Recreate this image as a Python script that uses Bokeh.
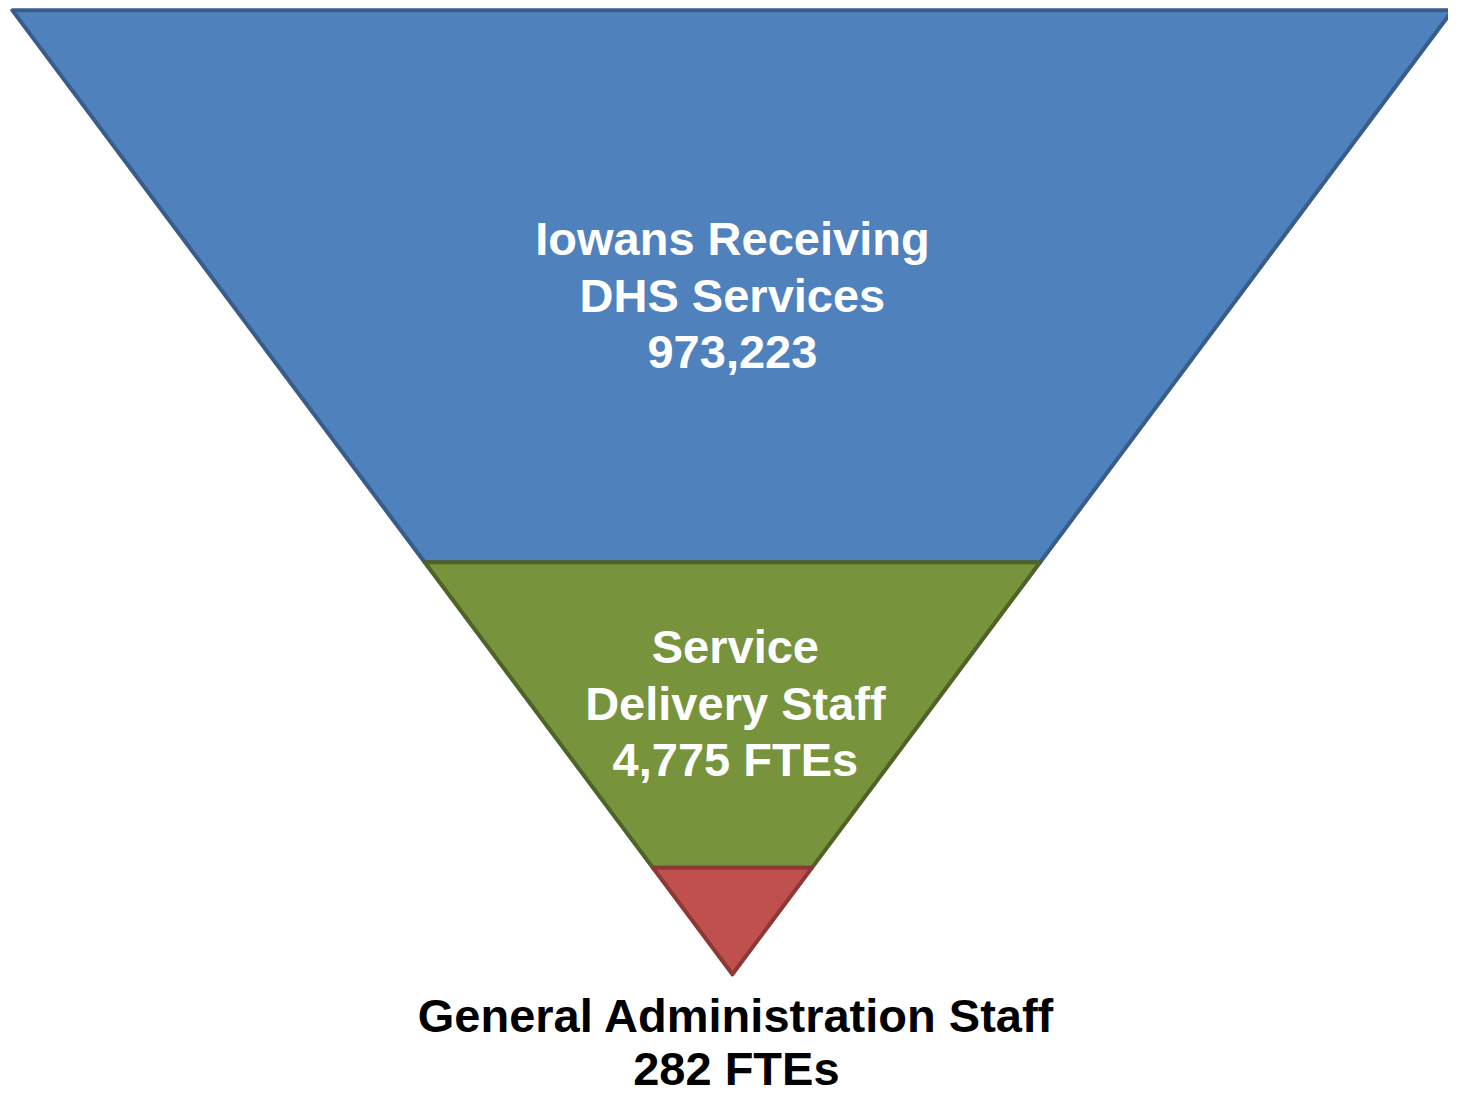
from bokeh.plotting import figure
from bokeh.models import Range1d, ColumnDataSource
from bokeh.core.properties import value
from bokeh.embed import file_html
from bokeh.resources import INLINE

# ---- data ----
stage_titles = [["Iowans Receiving", "DHS Services"],
                ["Service", "Delivery Staff"],
                ["General Administration Staff"]]
stage_values = [973223, 4775, 282]
value_units = ["", " FTEs", " FTEs"]
band_shares = [0.5726, 0.3170, 0.1104]          # share of funnel depth per band
fill_colors = ["#4F81BD", "#77933C", "#C0504D"]
line_colors = ["#385D8A", "#4F6228", "#8C3836"]
text_colors = ["white", "white", "black"]

# ---- layout (reference-pixel coordinate system 1464 x 1112) ----
W, H = 1448, 1096
TOP, APEX = 10, 988
LEFT, RIGHT = 12, 1468
CX = (LEFT + RIGHT) / 2.0
LINE_H = 57.5
MID_FIX = 17   # baseline -> cap-middle

p = figure(width=W, height=H, output_backend="svg", toolbar_location=None,
           x_range=Range1d(0, 1464), y_range=Range1d(1112, 0),
           x_axis_location=None, y_axis_location=None, min_border=0)
p.grid.visible = False
p.outline_line_color = None
p.background_fill_color = "white"
p.border_fill_color = "white"


def half_width(y):
    return (RIGHT - LEFT) / 2.0 * (APEX - y) / (APEX - TOP)


depth = APEX - TOP
y_edges = [TOP]
for s in band_shares:
    y_edges.append(y_edges[-1] + s * depth)
y_edges[-1] = APEX

xs, ys = [], []
for i in range(len(band_shares)):
    ya, yb = y_edges[i], y_edges[i + 1]
    wa, wb = half_width(ya), half_width(yb)
    if i == len(band_shares) - 1:
        xs.append([CX - wa, CX + wa, CX])
        ys.append([ya, ya, yb])
    else:
        xs.append([CX - wa, CX + wa, CX + wb, CX - wb])
        ys.append([ya, ya, yb, yb])

for i in range(len(xs)):
    p.patch(xs[i], ys[i], fill_color=fill_colors[i], line_color=line_colors[i],
            line_width=4, line_join="round")

# ---- labels ----
offsets = [9, -12]  # vertical shift of inside label blocks vs band centre
tx, ty, tt, tc = [], [], [], []
for i in range(len(stage_values)):
    lines = list(stage_titles[i]) + ["{:,}{}".format(stage_values[i], value_units[i])]
    if i < 2:
        centre = (y_edges[i] + y_edges[i + 1]) / 2.0 + offsets[i]
        first = centre - LINE_H * (len(lines) - 1) / 2.0 + 17
        step = LINE_H
        cx = CX + (0 if i == 0 else 3)
    else:
        first = APEX + 59
        step = 54
        cx = CX + 4
    for k, t in enumerate(lines):
        tx.append(cx)
        ty.append(first + k * step - MID_FIX)
        tt.append(t)
        tc.append(text_colors[i])

src = ColumnDataSource(dict(x=tx, y=ty, text=tt, color=tc))
p.text(x="x", y="y", text="text", source=src, text_color="color",
       text_font=value("Liberation Sans"), text_font_style="bold",
       text_font_size="47px", text_align="center", text_baseline="middle")

open("out.html", "w").write(file_html(p, INLINE))
